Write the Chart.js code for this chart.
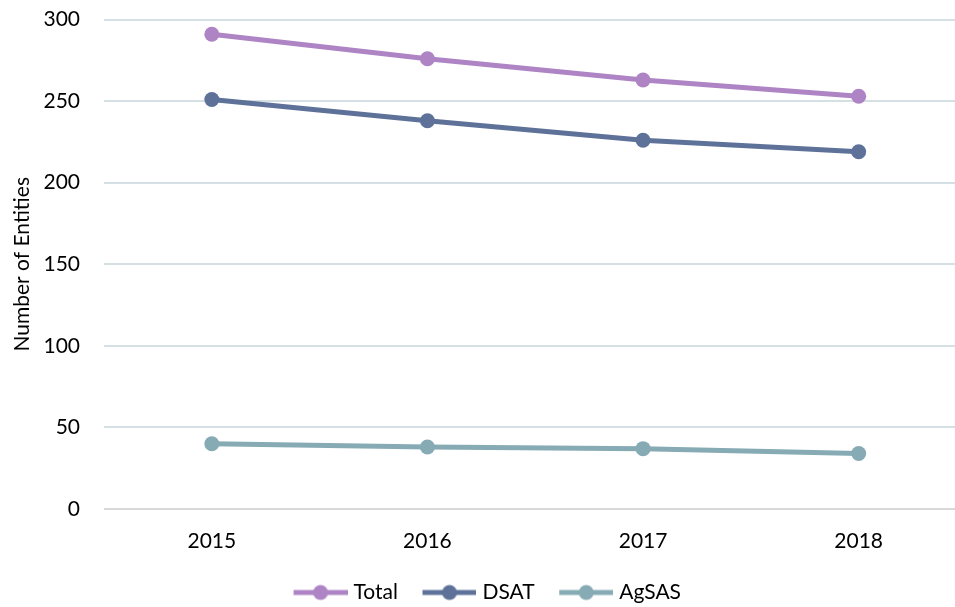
<!DOCTYPE html>
<html>
<head>
<meta charset="utf-8">
<script src="https://cdn.jsdelivr.net/npm/chart.js@4/dist/chart.umd.min.js"></script>
<style>
  html, body { margin: 0; padding: 0; background: #fff; overflow: hidden; }
  #wrap { width: 955px; height: 607px; overflow: hidden; }
  #myChart { display: block; margin-top: -17px; }
</style>
</head>
<body>
<div id="wrap"><canvas id="myChart" width="974" height="634"></canvas></div>
<script>
var years = ["2015", "2016", "2017", "2018"];
var totalVals = [291, 276, 263, 253];
var dsatVals = [251, 238, 226, 219];
var agsasVals = [40, 38, 37, 34];
var yTicks = [0, 50, 100, 150, 200, 250, 300];

var colTotal = '#AE84C5';
var colDsat = '#5E7299';
var colAgsas = '#86ABB4';
var fontFam = 'Lato, "Open Sans", sans-serif';

// legend marker: short line with a dot in the middle
function legendIcon(color) {
    var c = document.createElement('canvas');
    c.width = 59; c.height = 20;
    var g = c.getContext('2d');
    g.strokeStyle = color;
    g.lineWidth = 5;
    g.beginPath(); g.moveTo(5, 10); g.lineTo(59, 10); g.stroke();
    g.fillStyle = color;
    g.beginPath(); g.arc(32, 10, 7.5, 0, Math.PI * 2); g.fill();
    return c;
}

function makeSet(label, vals, color) {
    return {
        label: label,
        data: vals,
        borderColor: color,
        backgroundColor: color,
        borderWidth: 5,
        pointRadius: 7.5,
        pointHoverRadius: 7.5,
        pointBorderWidth: 0,
        pointStyle: 'circle',
        tension: 0,
        legendIcon: legendIcon(color)
    };
}

// canvas is wider than the window, so pull the legend back to the visible centre
var shiftLegend = {
    id: 'shiftLegend',
    afterLayout: function(c) {
        c.legend.left -= 5;
        c.legend.right -= 5;
    }
};

var ctx = document.getElementById('myChart').getContext('2d');
var chart = new Chart(ctx, {
    type: 'line',
    data: {
        labels: years,
        datasets: [
            makeSet("Total", totalVals, colTotal),
            makeSet("DSAT", dsatVals, colDsat),
            makeSet("AgSAS", agsasVals, colAgsas)
        ]
    },
    plugins: [shiftLegend],
    options: {
        responsive: false,
        animation: false,
        layout: { padding: { top: 0, left: 10, right: 0, bottom: 4 } },
        plugins: {
            tooltip: { enabled: false },
            legend: {
                position: 'bottom',
                labels: {
                    usePointStyle: true,
                    pointStyleWidth: 50,
                    color: '#000',
                    padding: 24,
                    font: { family: fontFam, size: 21 },
                    generateLabels: function(ch) {
                        return ch.data.datasets.map(function(ds, i) {
                            return {
                                text: ds.label,
                                pointStyle: ds.legendIcon,
                                fillStyle: ds.borderColor,
                                strokeStyle: ds.borderColor,
                                lineWidth: 0,
                                fontColor: '#000',
                                datasetIndex: i,
                                hidden: false
                            };
                        });
                    }
                }
            }
        },
        scales: {
            x: {
                offset: true,
                grid: { display: false },
                border: { display: false },
                afterFit: function(axis) { axis.height = 49; },
                ticks: {
                    color: '#000',
                    padding: 12,
                    font: { family: fontFam, size: 21 }
                }
            },
            y: {
                min: 0,
                max: 300,
                afterBuildTicks: function(axis) {
                    axis.ticks = yTicks.map(function(v) { return { value: v }; });
                },
                afterFit: function(axis) { axis.width = 94; },
                border: { display: false },
                grid: {
                    color: function(c) { return c.tick && c.tick.value === 0 ? '#D9D9D9' : '#D5E0E5'; },
                    lineWidth: 2,
                    drawTicks: false
                },
                ticks: {
                    color: '#000',
                    padding: 24,
                    font: { family: fontFam, size: 21 }
                },
                title: {
                    display: true,
                    text: 'Number of Entities',
                    color: '#000',
                    padding: { top: 0, bottom: 0 },
                    font: { family: fontFam, size: 21 }
                }
            }
        }
    }
});
</script>
</body>
</html>
